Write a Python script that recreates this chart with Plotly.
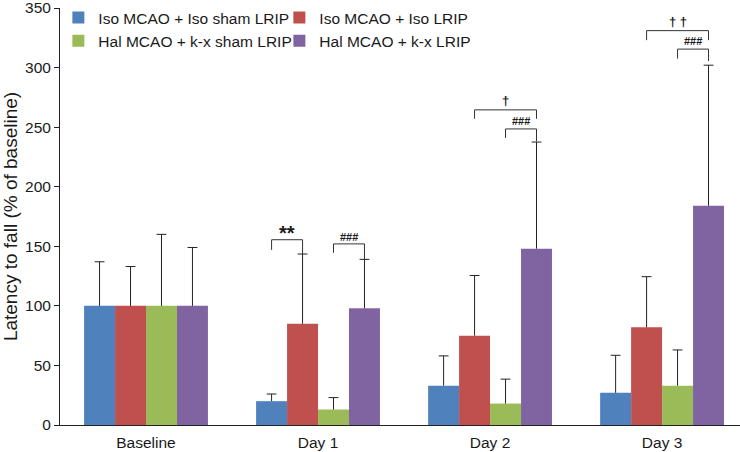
import plotly.graph_objects as go

categories = ["Baseline", "Day 1", "Day 2", "Day 3"]
series_names = ["Iso MCAO + Iso sham LRIP", "Iso MCAO + Iso LRIP",
                "Hal MCAO + k-x sham LRIP", "Hal MCAO + k-x LRIP"]
colors = ["#4F81BD", "#C0504D", "#9BBB59", "#8064A2"]
means = [
    [100, 20, 33, 27],
    [100, 85, 75, 82],
    [100, 13, 18, 33],
    [100, 98, 148, 184],
]
err_tops = [
    [137, 26, 58, 58.5],
    [133, 143.5, 125.5, 124.5],
    [160, 23, 38.5, 63],
    [149, 139, 237.5, 302],
]
legend_ids = ["legend", "legend2", "legend", "legend2"]

# significance brackets: (category, from series, to series, top, left bottom, right bottom, label, label y, size)
brackets = [
    (1, 0, 1, 155.5, 147, 143.5, "**", 161, 20),
    (1, 2, 3, 152, 144.5, 139, "###", 158, 11),
    (2, 1, 3, 264.5, 257, 257, "†", 272, 13),
    (2, 2, 3, 248.5, 241, 238, "###", 255.5, 11),
    (3, 1, 3, 331, 323, 323, "† †", 339, 13),
    (3, 2, 3, 315.5, 307.5, 305.5, "###", 322.5, 11),
]

BARGAP = 0.28
NS = len(series_names)
bw = (1 - BARGAP) / NS


def bar_x(cat, s):
    return cat - (1 - BARGAP) / 2 + bw / 2 + bw * s


FONT = "Liberation Sans, Arial, sans-serif"
TXT = "#1a1a1a"
ERR = "#222222"

fig = go.Figure()
xs = list(range(len(categories)))
for s in range(NS):
    fig.add_trace(go.Bar(
        x=xs, y=means[s], name=series_names[s],
        marker=dict(color=colors[s], line=dict(width=0)),
        error_y=dict(type="data", symmetric=False,
                     array=[t - m for t, m in zip(err_tops[s], means[s])],
                     arrayminus=[0] * len(xs),
                     color=ERR, thickness=1, width=0),
        legend=legend_ids[s],
    ))

# caps of the (upper-only) error bars
for s in range(NS):
    fig.add_trace(go.Scatter(
        x=[bar_x(c, s) for c in xs], y=err_tops[s], mode="markers",
        marker=dict(symbol="line-ew", size=7, color=ERR,
                    line=dict(color=ERR, width=1)),
        showlegend=False, hoverinfo="skip",
    ))

for cat, a, b, top, lb, rb, label, ly, size in brackets:
    x1 = bar_x(cat, a)
    x2 = bar_x(cat, b)
    line = dict(color="#333333", width=1)
    fig.add_shape(type="line", x0=x1, x1=x1, y0=lb, y1=top, line=line)
    fig.add_shape(type="line", x0=x1, x1=x2, y0=top, y1=top, line=line)
    fig.add_shape(type="line", x0=x2, x1=x2, y0=rb, y1=top, line=line)
    fig.add_annotation(x=(x1 + x2) / 2, y=ly, text="<b>" + label + "</b>",
                       showarrow=False, font=dict(size=size, color=TXT, family=FONT),
                       yanchor="middle")

fig.update_layout(
    width=740, height=452,
    margin=dict(l=60, r=0, t=8, b=27),
    paper_bgcolor="white", plot_bgcolor="white",
    barmode="group", bargap=BARGAP, bargroupgap=0,
    font=dict(family=FONT, size=15.5, color=TXT),
    xaxis=dict(range=[-0.5, 3.453], tickvals=xs, ticktext=categories,
               showline=True, linecolor=ERR, linewidth=1,
               ticks="outside", ticklen=3, tickcolor="rgba(0,0,0,0)",
               ticklabeloverflow="allow",
               showgrid=False, zeroline=False),
    yaxis=dict(range=[0, 350], tickvals=[0, 50, 100, 150, 200, 250, 300, 350],
               showline=True, linecolor=ERR, linewidth=1,
               ticks="outside", ticklen=5, tickcolor=ERR,
               ticklabeloverflow="allow",
               showgrid=False, zeroline=False,
               title=dict(text="Latency to fall (% of baseline)", standoff=10)),
    legend=dict(x=-0.0024, y=1.0168, xanchor="left", yanchor="top",
                bgcolor="rgba(0,0,0,0)", font=dict(size=15.5),
                tracegroupgap=0, itemwidth=30),
    legend2=dict(x=0.3226, y=1.0168, xanchor="left", yanchor="top",
                 bgcolor="rgba(0,0,0,0)", font=dict(size=15.5),
                 tracegroupgap=0, itemwidth=30),
    showlegend=True,
)

fig.write_html("out.html", config={"displayModeBar": False},
               post_script="document.body.style.margin='0';")
